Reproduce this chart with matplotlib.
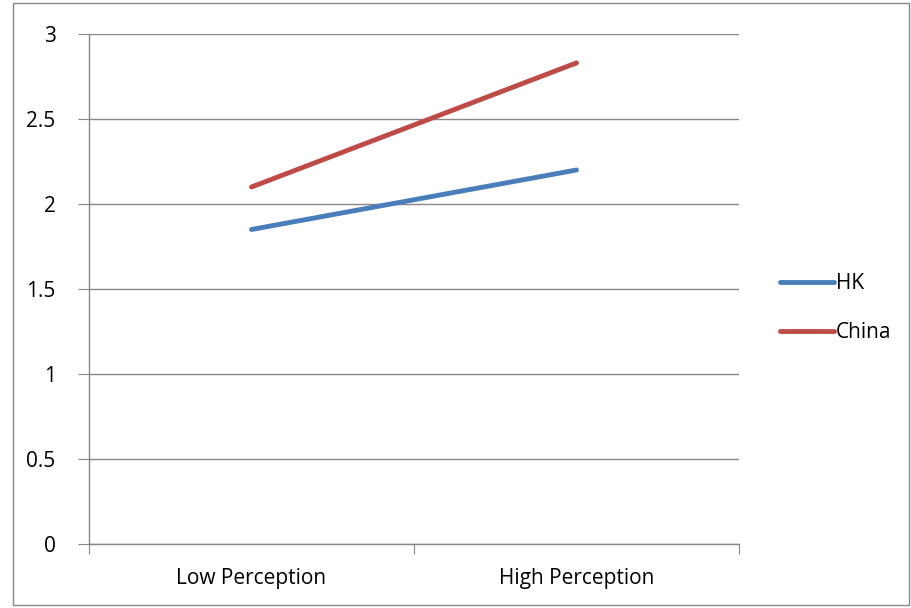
import matplotlib.pyplot as plt
from matplotlib.patches import Rectangle

categories = ['Low Perception', 'High Perception']
hk = [1.85, 2.2]
china = [2.1, 2.83]
yticks = [0, 0.5, 1, 1.5, 2, 2.5, 3]

plt.rcParams['font.family'] = ['Open Sans', 'DejaVu Sans']
fs = 15

fig = plt.figure(figsize=(9.11, 6.08), dpi=100)
ax = fig.add_axes([89 / 911, 1 - 544 / 608, 650 / 911, 510 / 608])

x = [0.5, 1.5]
ax.plot(x, hk, color='#4A7EBB', linewidth=3.5, solid_capstyle='round', label='HK')
ax.plot(x, china, color='#BE4B48', linewidth=3.5, solid_capstyle='round', label='China')

ax.set_xlim(0, 2)
ax.set_ylim(0, 3)
ax.set_yticks(yticks)
ax.set_yticklabels([f'{v:g}' for v in yticks], fontsize=fs)
ax.yaxis.grid(True, color='#878787', linewidth=1)
ax.set_axisbelow(True)

ax.set_xticks([0, 1, 2])
ax.set_xticklabels([])
ax.set_xticks(x, minor=True)
ax.set_xticklabels(categories, minor=True, fontsize=fs)
ax.tick_params(axis='x', which='minor', length=0, pad=17)
ax.tick_params(axis='x', which='major', direction='out', length=7, color='#878787')
ax.tick_params(axis='y', direction='out', length=8, color='#878787', pad=16)

for side in ['top', 'right']:
    ax.spines[side].set_visible(False)
for side in ['left', 'bottom']:
    ax.spines[side].set_color('#878787')
    ax.spines[side].set_linewidth(1)

leg = fig.legend(loc='center left', bbox_to_anchor=(761 / 911, 1 - 308 / 608),
                 frameon=False, fontsize=fs, handlelength=2.6, handletextpad=0.1,
                 labelspacing=1.35)

fig.patches.append(Rectangle((13 / 911, 3 / 608), 896 / 911, 602 / 608,
                             transform=fig.transFigure, fill=False,
                             edgecolor='#878787', linewidth=1))

fig.savefig('out.png', dpi=100)
